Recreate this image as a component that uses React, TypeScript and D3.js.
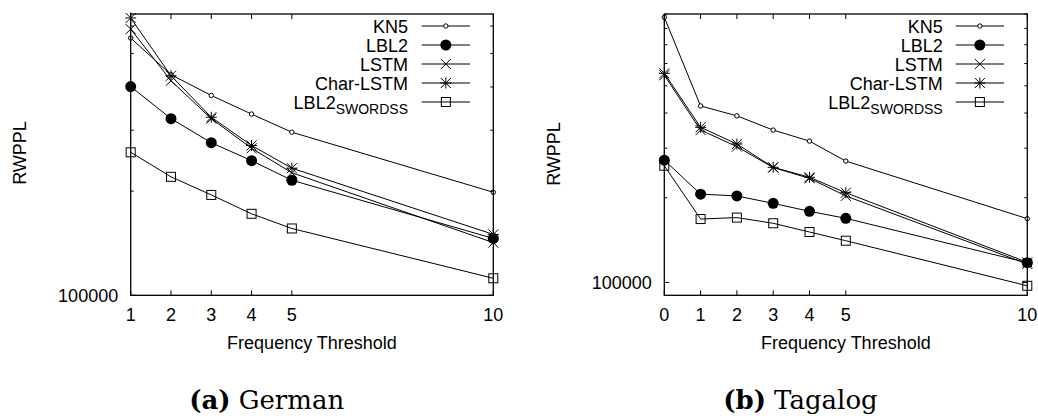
import React from 'react';
import * as d3 from 'd3';

// ---------- data ----------
const seriesNames = ['KN5', 'LBL2', 'LSTM', 'Char-LSTM', 'LBL2_SWORDSS'];
const seriesMarkers = ['smallCircle', 'filledCircle', 'cross', 'star', 'square'];

const germanThresholds = [1, 2, 3, 4, 5, 10];
const germanKN5 = [554000, 434000, 378000, 334000, 296000, 198500];
const germanLBL2 = [401000, 324000, 276000, 245000, 215000, 146000];
const germanLSTM = [588000, 417000, 324000, 266000, 226000, 142000];
const germanCharLSTM = [633000, 431000, 327000, 271000, 233000, 150000];
const germanSWORDSS = [259000, 220000, 195000, 172000, 156000, 112000];

const tagalogThresholds = [0, 1, 2, 3, 4, 5, 10];
const tagalogKN5 = [876000, 424000, 391000, 348000, 318000, 270000, 168500];
const tagalogLBL2 = [272000, 206000, 203000, 191000, 179000, 169000, 117500];
const tagalogLSTM = [545000, 348000, 304000, 256000, 234500, 203000, 116300];
const tagalogCharLSTM = [554000, 356000, 310500, 256600, 236500, 208400, 117900];
const tagalogSWORDSS = [260000, 168000, 170000, 162300, 151100, 140700, 97300];

const germanXTicks = [1, 2, 3, 4, 5, 10];
const tagalogXTicks = [0, 1, 2, 3, 4, 5, 10];
const germanYMajor = [100000];
const tagalogYMajor = [100000];
const germanYMinor = [200000, 300000, 400000, 500000, 600000];
const tagalogYMinor = [200000, 300000, 400000, 500000, 600000, 700000, 800000, 900000];

const xLabel = 'Frequency Threshold';
const yLabel = 'RWPPL';

const SANS = '"Liberation Sans", Arial, Helvetica, sans-serif';

type Panel = {
  x: number[];
  series: number[][];
  xTicks: number[];
  yMajor: number[];
  yMinor: number[];
  xDomain: [number, number];
  yDomain: [number, number];
  left: number;
  right: number;
  top: number;
  bottom: number;
  yLabelX: number;
  yLabelY: number;
  legendTextX: number;
  legendLineX1: number;
  legendLineX2: number;
  captionBold: string;
  captionText: string;
  captionX: number;
};

const panels: Panel[] = [
  {
    x: germanThresholds,
    series: [germanKN5, germanLBL2, germanLSTM, germanCharLSTM, germanSWORDSS],
    xTicks: germanXTicks,
    yMajor: germanYMajor,
    yMinor: germanYMinor,
    xDomain: [1, 10],
    yDomain: [100000, 650000],
    left: 130.7,
    right: 493.3,
    top: 14,
    bottom: 295.3,
    yLabelX: 19.5,
    yLabelY: 153,
    legendTextX: 408,
    legendLineX1: 421.7,
    legendLineX2: 470,
    captionBold: '(a)',
    captionText: 'German',
    captionX: 266.7,
  },
  {
    x: tagalogThresholds,
    series: [tagalogKN5, tagalogLBL2, tagalogLSTM, tagalogCharLSTM, tagalogSWORDSS],
    xTicks: tagalogXTicks,
    yMajor: tagalogYMajor,
    yMinor: tagalogYMinor,
    xDomain: [0, 10],
    yDomain: [90000, 900000],
    left: 664.3,
    right: 1027.3,
    top: 14,
    bottom: 295.3,
    yLabelX: 554,
    yLabelY: 154,
    legendTextX: 942.7,
    legendLineX1: 955.7,
    legendLineX2: 1004,
    captionBold: '(b)',
    captionText: 'Tagalog',
    captionX: 800.5,
  },
];

const legendRowY = [26, 45, 64, 83, 102];

function Marker({ type, x, y }: { type: string; x: number; y: number }) {
  const s = 5;
  if (type === 'smallCircle')
    return <circle cx={x} cy={y} r={2.2} fill="white" stroke="black" strokeWidth={1} />;
  if (type === 'filledCircle') return <circle cx={x} cy={y} r={5.5} fill="black" />;
  if (type === 'cross')
    return (
      <g stroke="black" strokeWidth={1}>
        <line x1={x - s} y1={y - s} x2={x + s} y2={y + s} />
        <line x1={x - s} y1={y + s} x2={x + s} y2={y - s} />
      </g>
    );
  if (type === 'star')
    return (
      <g stroke="black" strokeWidth={1}>
        <line x1={x - s} y1={y - s} x2={x + s} y2={y + s} />
        <line x1={x - s} y1={y + s} x2={x + s} y2={y - s} />
        <line x1={x - s - 0.5} y1={y} x2={x + s + 0.5} y2={y} />
        <line x1={x} y1={y - s - 0.5} x2={x} y2={y + s + 0.5} />
      </g>
    );
  if (type === 'square')
    return <rect x={x - 4.5} y={y - 4.5} width={9} height={9} fill="none" stroke="black" strokeWidth={1} />;
  return null;
}

function PanelView({ p }: { p: Panel }) {
  const xs = d3.scaleLinear().domain(p.xDomain).range([p.left, p.right]);
  const ys = d3.scaleLog().domain(p.yDomain).range([p.bottom, p.top]);
  const line = d3
    .line<[number, number]>()
    .x((d) => xs(d[0]))
    .y((d) => ys(d[1]));
  const major = 5;
  const minor = 3;
  const plotCenter = (p.left + p.right) / 2;
  return (
    <g>
      {/* series lines */}
      {p.series.map((vals, si) => (
        <path
          key={'l' + si}
          d={line(p.x.map((xv, i) => [xv, vals[i]] as [number, number])) || ''}
          fill="none"
          stroke="black"
          strokeWidth={1}
        />
      ))}
      {/* markers */}
      {p.series.map((vals, si) =>
        p.x.map((xv, i) => (
          <Marker key={'m' + si + '-' + i} type={seriesMarkers[si]} x={xs(xv)} y={ys(vals[i])} />
        ))
      )}
      {/* frame */}
      <rect
        x={p.left}
        y={p.top}
        width={p.right - p.left}
        height={p.bottom - p.top}
        fill="none"
        stroke="black"
        strokeWidth={1.3}
      />
      {/* x ticks */}
      {p.xTicks.map((t) => (
        <g key={'xt' + t} stroke="black" strokeWidth={1}>
          <line x1={xs(t)} x2={xs(t)} y1={p.bottom} y2={p.bottom - major} />
          <line x1={xs(t)} x2={xs(t)} y1={p.top} y2={p.top + major} />
        </g>
      ))}
      {p.xTicks.map((t) => (
        <text
          key={'xl' + t}
          x={xs(t)}
          y={320.7}
          textAnchor="middle"
          fontFamily={SANS}
          fontSize={18}
          fill="black"
        >
          {t}
        </text>
      ))}
      {/* y ticks */}
      {p.yMajor.map((t) => (
        <g key={'ym' + t} stroke="black" strokeWidth={1}>
          <line x1={p.left} x2={p.left + major} y1={ys(t)} y2={ys(t)} />
          <line x1={p.right} x2={p.right - major} y1={ys(t)} y2={ys(t)} />
        </g>
      ))}
      {p.yMajor.map((t) => (
        <text
          key={'yl' + t}
          x={p.left - 12.5}
          y={ys(t)}
          dy="0.35em"
          textAnchor="end"
          fontFamily={SANS}
          fontSize={18}
          fill="black"
        >
          {t}
        </text>
      ))}
      {p.yMinor.map((t) => (
        <g key={'yn' + t} stroke="black" strokeWidth={1}>
          <line x1={p.left} x2={p.left + minor} y1={ys(t)} y2={ys(t)} />
          <line x1={p.right} x2={p.right - minor} y1={ys(t)} y2={ys(t)} />
        </g>
      ))}
      {/* axis labels */}
      <text
        x={plotCenter}
        y={349.3}
        textAnchor="middle"
        fontFamily={SANS}
        fontSize={18}
        fill="black"
      >
        {xLabel}
      </text>
      <text
        transform={`translate(${p.yLabelX},${p.yLabelY}) rotate(-90)`}
        textAnchor="middle"
        dy="0.35em"
        fontFamily={SANS}
        fontSize={18}
        fill="black"
      >
        {yLabel}
      </text>
      {/* legend */}
      {seriesNames.map((name, i) => {
        const cy = legendRowY[i];
        const parts = name.split('_');
        return (
          <g key={'lg' + i}>
            <text
              x={p.legendTextX}
              y={cy + 6.5}
              textAnchor="end"
              fontFamily={SANS}
              fontSize={18}
              fill="black"
            >
              {parts[0]}
              {parts.length > 1 ? (
                <tspan fontSize={14} dy={5}>
                  {parts[1]}
                </tspan>
              ) : null}
            </text>
            <line
              x1={p.legendLineX1}
              x2={p.legendLineX2}
              y1={cy}
              y2={cy}
              stroke="black"
              strokeWidth={1}
            />
            <Marker type={seriesMarkers[i]} x={(p.legendLineX1 + p.legendLineX2) / 2} y={cy} />
          </g>
        );
      })}
      {/* caption */}
      <text
        x={p.captionX}
        y={409.3}
        textAnchor="middle"
        fontFamily='"DejaVu Serif", "Liberation Serif", serif'
        fontSize={26}
        fill="black"
      >
        <tspan fontWeight="bold">{p.captionBold}</tspan>
        <tspan dx={8}>{p.captionText}</tspan>
      </text>
    </g>
  );
}

export default function App() {
  return (
    <svg
      width={1038}
      height={416}
      style={{ position: 'absolute', left: 0, top: 0, background: 'white' }}
    >
      <rect x={0} y={0} width={1038} height={416} fill="white" />
      {panels.map((p, i) => (
        <PanelView key={i} p={p} />
      ))}
    </svg>
  );
}
